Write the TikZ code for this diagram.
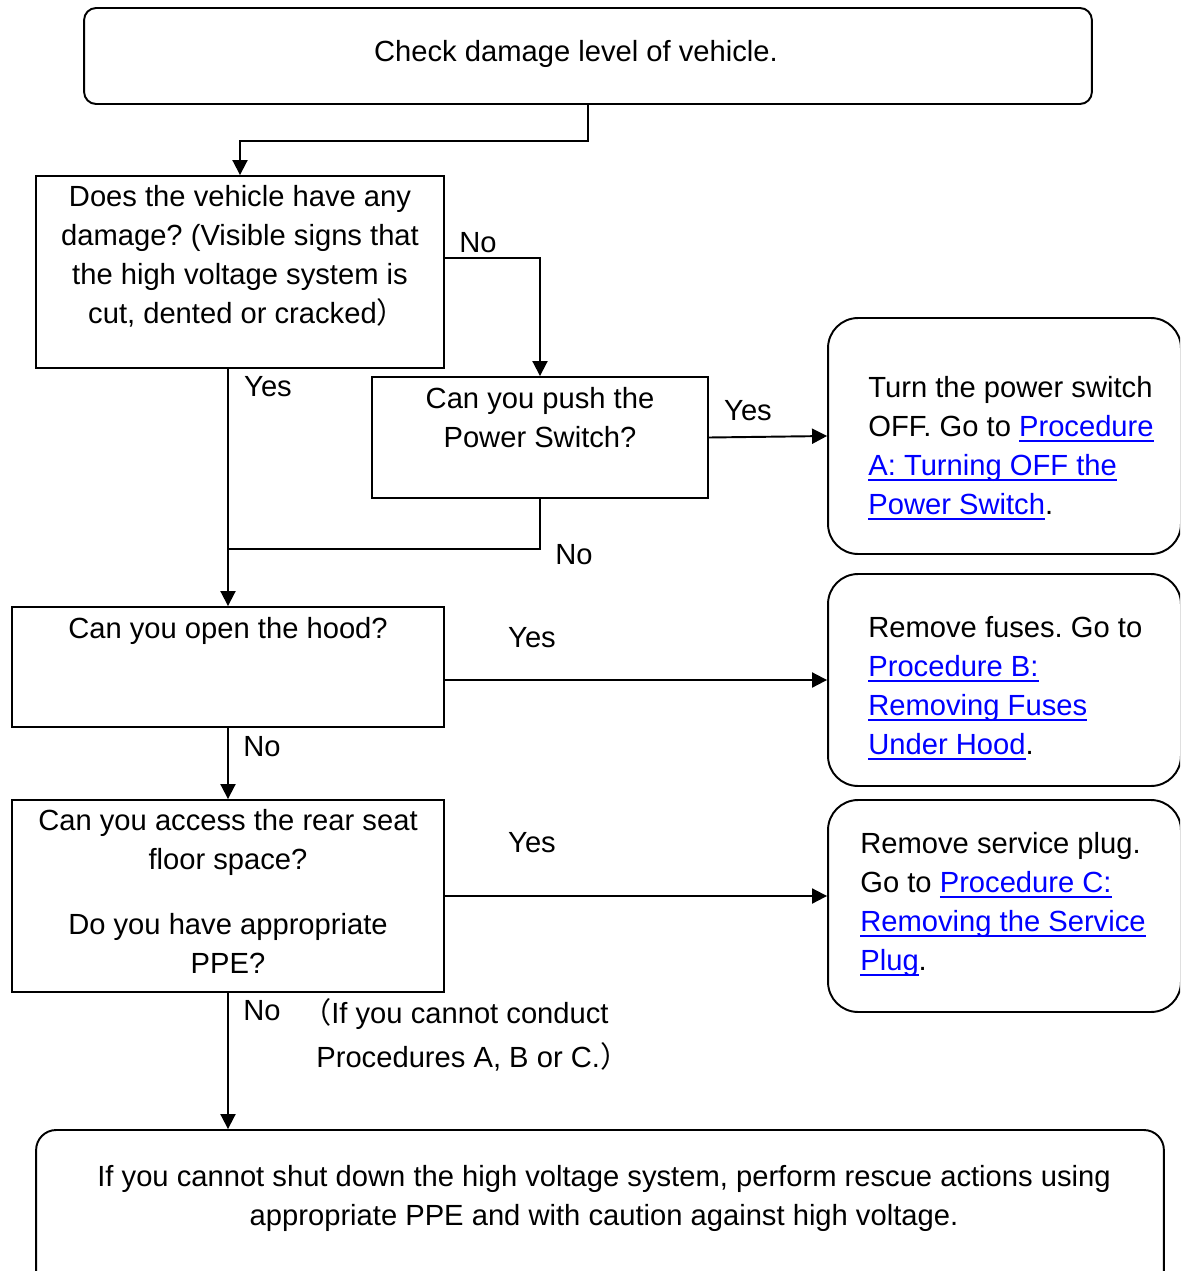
\documentclass[tikz,border=0pt]{standalone}
\usepackage{fontspec}
\setmainfont{Liberation Sans}
\newfontfamily\cjk{Noto Sans CJK SC}
\usepackage{xcolor}
\usetikzlibrary{arrows.meta}
\frenchspacing
\newsavebox{\lnkbox}
\newcommand{\lnk}[1]{\sbox{\lnkbox}{\color{blue}#1}\textcolor{blue}{\rlap{\rule[-3pt]{\wd\lnkbox}{1.1pt}}\usebox{\lnkbox}}}
\newcommand{\lpar}{\makebox[0.3cm][r]{\cjk （}}
\newcommand{\rpar}{\makebox[0.3cm][l]{\cjk ）}}

\begin{document}
\begin{tikzpicture}[x=0.02cm,y=-0.02cm,
  box/.style={draw,line width=1.1pt,inner sep=0pt},
  rbox/.style={box,rounded corners=0.6cm},
  txt/.style={inner sep=0pt,align=center,font=\fontsize{16.6}{22.2}\selectfont},
  ltxt/.style={txt,align=left,anchor=north west},
  conn/.style={line width=1.1pt},
  arr/.style={conn,-{Triangle[length=0.3cm,width=0.3cm]}}]
\useasboundingbox (0,0) rectangle (1180,1271);
\clip (0,0) rectangle (1180,1271);

\node[box,rounded corners=0.24cm,minimum width=20.16cm,minimum height=1.92cm] (check) at (588,56) {};
\node[txt,anchor=north] (checkt) at (576,40) {Check damage level of vehicle.};

\node[box,minimum width=8.16cm,minimum height=3.84cm] (damage) at (240,272) {};
\node[txt,anchor=north] (damaget) at (240,185) {Does the vehicle have any\\damage? (Visible signs that\\the high voltage system is\\cut, dented or cracked\rpar};

\node[box,minimum width=6.72cm,minimum height=2.42cm] (push) at (540,437.5) {};
\node[txt,anchor=north] (pusht) at (540,387) {Can you push the\\Power Switch?};

\node[rbox,minimum width=7.06cm,minimum height=4.72cm] (procA) at (1004.5,436) {};
\node[ltxt] (procAt) at (868,376) {Turn the power switch\\OFF. Go to \lnk{Procedure}\\\lnk{A: Turning OFF the}\\\lnk{Power Switch}.};

\node[box,minimum width=8.64cm,minimum height=2.4cm] (hood) at (228,667) {};
\node[txt,anchor=north] (hoodt) at (228,617) {Can you open the hood?};

\node[rbox,minimum width=7.06cm,minimum height=4.24cm] (procB) at (1004.5,680) {};
\node[ltxt] (procBt) at (868,616) {Remove fuses. Go to\\\lnk{Procedure B:}\\\lnk{Removing Fuses}\\\lnk{Under Hood}.};

\node[box,minimum width=8.64cm,minimum height=3.84cm] (rear) at (228,896) {};
\node[txt,anchor=north] (reart) at (228,809) {Can you access the rear seat\\floor space?\\[0.52cm]Do you have appropriate\\PPE?};

\node[rbox,minimum width=7.06cm,minimum height=4.24cm] (procC) at (1004.5,906) {};
\node[ltxt] (procCt) at (860,832) {Remove service plug.\\Go to \lnk{Procedure C:}\\\lnk{Removing the Service}\\\lnk{Plug}.};

\node[box,rounded corners=0.4cm,minimum width=22.56cm,minimum height=3.4cm] (final) at (600,1215) {};
\node[txt,anchor=north] (finalt) at (604,1165) {If you cannot shut down the high voltage system, perform rescue actions using\\appropriate PPE and with caution against high voltage.};

\node[txt] (no1) at (478,243) {No};
\node[txt] (yes1) at (748,411) {Yes};
\node[txt] (yes2) at (268,387) {Yes};
\node[txt] (no2) at (574,555) {No};
\node[txt] (yes3) at (532,638) {Yes};
\node[txt] (no3) at (262,747) {No};
\node[txt] (yes4) at (532,843) {Yes};
\node[txt] (no4) at (262,1011) {No};
\node[ltxt] (note) at (316,998) {\lpar If you cannot conduct\\[0.1cm]Procedures A, B or C.\rpar};

\draw[arr] (check.south) -- ++(0,36) -| (damage.north);
\draw[arr] ([yshift=0.28cm]damage.east) -| (push.north);
\draw[arr] (push.east) -- (procA.west);
\draw[arr] (damage.south -| hood.north) -- (hood.north);
\coordinate (join) at (228,549);
\draw[conn] (push.south) |- (join);
\draw[arr] (hood.east |- procB.west) -- (procB.west);
\draw[arr] (hood.south) -- (rear.north);
\draw[arr] (rear.east) -- (rear.east -| procC.west);
\draw[arr] (rear.south) -- (rear.south |- final.north);
\end{tikzpicture}
\end{document}
